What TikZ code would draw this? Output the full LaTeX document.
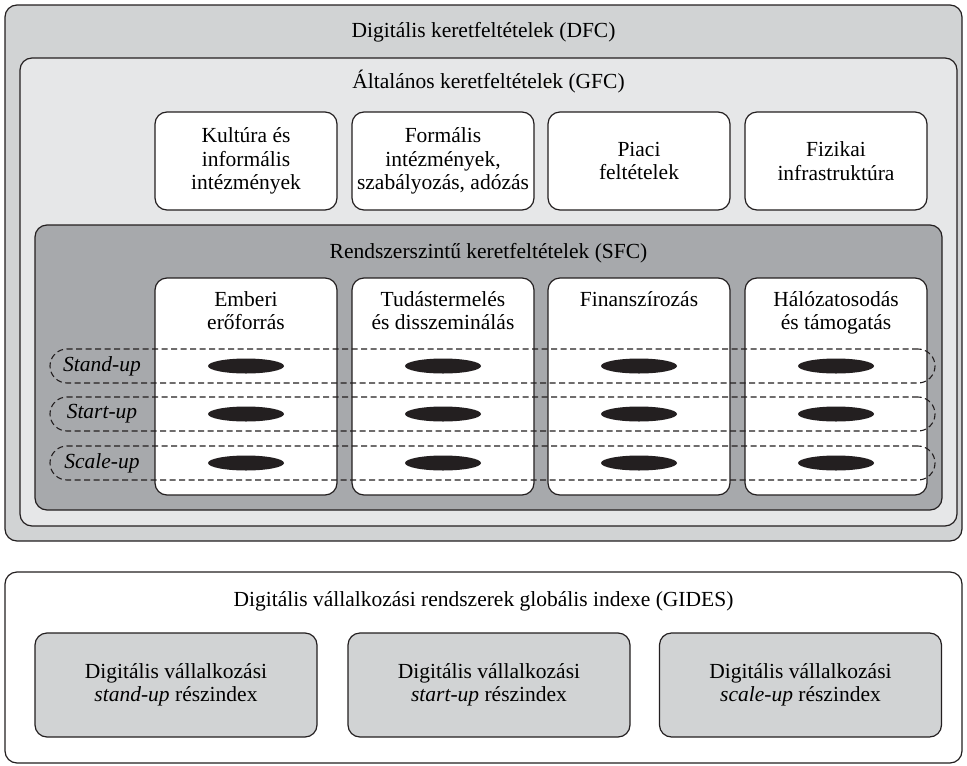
\documentclass[tikz,border=0pt]{standalone}
\usepackage{fontspec}
\setmainfont{Liberation Serif}
\usetikzlibrary{shapes.geometric}

\definecolor{linecol}{HTML}{231F20}
\definecolor{dfcgray}{HTML}{D1D3D4}
\definecolor{gfcgray}{HTML}{E6E7E8}
\definecolor{sfcgray}{HTML}{A7A9AC}

\tikzset{
    frame/.style    = {draw=linecol, line width=1.2pt, rounded corners=12pt},
    condbox/.style  = {frame, fill=white, minimum width=182pt, minimum height=98pt,
                       align=center, inner sep=0pt},
    colbox/.style   = {frame, fill=white, minimum width=182pt, minimum height=217pt, inner sep=0pt},
    collabel/.style = {anchor=north, align=center, inner sep=0pt},
    rowbox/.style   = {draw=linecol, line width=1.1pt, dash pattern=on 6pt off 3.5pt,
                       rounded corners=17pt, minimum width=885pt, minimum height=34pt, inner sep=0pt},
    rowlabel/.style = {font=\fontsize{21.5}{23}\selectfont\itshape, inner sep=0pt},
    blob/.style     = {ellipse, fill=linecol, minimum width=76pt, minimum height=15pt, inner sep=0pt},
    indexbox/.style = {frame, fill=dfcgray, minimum width=282pt, minimum height=104pt,
                       align=center, inner sep=0pt}
}

\begin{document}
\begin{tikzpicture}[x=1pt, y=-1pt, font=\fontsize{21.5}{23.5}\selectfont]
    \useasboundingbox (0,0) rectangle (967,766);

    % nested frames
    \draw[frame, fill=dfcgray] (5,5)    rectangle (962,541);
    \node (dfc) at (483.5,32) {Digitális keretfeltételek (DFC)};
    \draw[frame, fill=gfcgray] (20,58)  rectangle (957,526);
    \node (gfc) at (488.5,82) {Általános keretfeltételek (GFC)};

    \node[condbox] (kultura) at (246,161) {Kultúra és\\informális\\intézmények};
    \node[condbox] (formal)  at (443,161) {Formális\\intézmények,\\szabályozás, adózás};
    \node[condbox] (piaci)   at (639,161) {Piaci\\feltételek};
    \node[condbox] (fizikai) at (836,161) {Fizikai\\infrastruktúra};

    \draw[frame, fill=sfcgray] (35,225) rectangle (942,510);
    \node (sfc) at (488.5,253) {Rendszerszintű keretfeltételek (SFC)};

    % pillars
    \foreach \name/\x in {ember/246, tudas/443, finansz/639, halozat/836}
        \node[colbox] (\name) at (\x,386.5) {};
    \node[collabel] at (246,291) {Emberi\\erőforrás};
    \node[collabel] at (443,291) {Tudástermelés\\és disszeminálás};
    \node[collabel] at (639,291) {Finanszírozás};
    \node[collabel] at (836,291) {Hálózatosodás\\és támogatás};

    % phases
    \node[rowbox] (standrow) at (492.5,366) {};
    \node[rowbox] (startrow) at (492.5,414) {};
    \node[rowbox] (scalerow) at (492.5,463) {};
    \node[rowlabel] (stand) at (102,366) {Stand-up};
    \node[rowlabel] (start) at (102,414) {Start-up};
    \node[rowlabel] (scale) at (102,463) {Scale-up};

    \foreach \name/\x in {ember/246, tudas/443, finansz/639, halozat/836}
        \foreach \row/\y in {stand/366, start/414, scale/463}
            \node[blob] (\name-\row) at (\x,\y) {};

    % index
    \draw[frame, fill=white] (5,572) rectangle (962,763);
    \node (gides) at (483.5,601) {Digitális vállalkozási rendszerek globális indexe (GIDES)};
    \node[indexbox] (istand) at (176,685)   {Digitális vállalkozási\\\textit{stand-up} részindex};
    \node[indexbox] (istart) at (489,685)   {Digitális vállalkozási\\\textit{start-up} részindex};
    \node[indexbox] (iscale) at (800.5,685) {Digitális vállalkozási\\\textit{scale-up} részindex};
\end{tikzpicture}
\end{document}
